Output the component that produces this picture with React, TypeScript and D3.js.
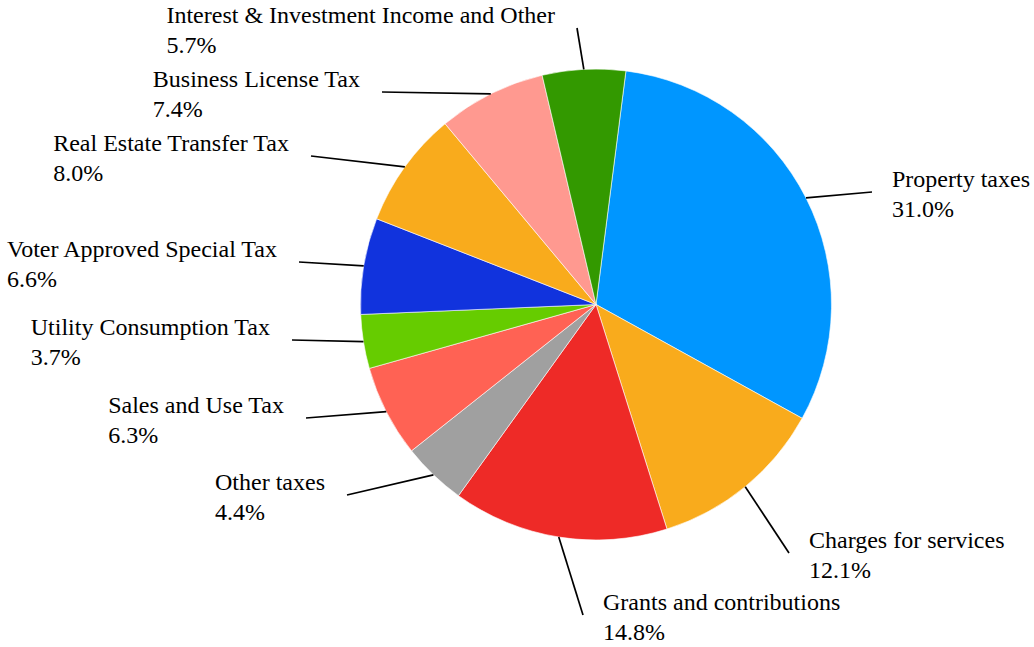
import React, { useEffect, useRef } from "react";
import * as d3 from "d3";

const categories = [
  "Property taxes",
  "Charges for services",
  "Grants and contributions",
  "Other taxes",
  "Sales and Use Tax",
  "Utility Consumption Tax",
  "Voter Approved Special Tax",
  "Real Estate Transfer Tax",
  "Business License Tax",
  "Interest & Investment Income and Other",
];
const shares = [31.0, 12.1, 14.8, 4.4, 6.3, 3.7, 6.6, 8.0, 7.4, 5.7];
const colors = [
  "#0096FF",
  "#F9AB1C",
  "#EE2A27",
  "#A0A0A0",
  "#FF6254",
  "#66CC00",
  "#1133DD",
  "#F9AB1C",
  "#FF9990",
  "#339900",
];

// label leader-line end points relative to the pie centre, and text side
const labelEnds: [number, number, "left" | "right"][] = [
  [276, -112.5, "right"],
  [193, 248.5, "right"],
  [-13, 310.5, "right"],
  [-249, 190.5, "left"],
  [-290, 113.5, "left"],
  [-304, 35.5, "left"],
  [-297, -42.5, "left"],
  [-285, -148.5, "left"],
  [-214, -212.5, "left"],
  [-19, -276.5, "left"],
];

const W = 1034;
const H = 647;
const CX = 596;
const CY = 304.5;
const R = 235.5;
const START_DEG = 7.3;
const FONT = "Liberation Serif, Times New Roman, serif";

export default function App() {
  const ref = useRef<SVGSVGElement>(null);
  useEffect(() => {
    const svg = d3.select(ref.current);
    svg.selectAll("*").remove();
    const g = svg.append("g").attr("transform", `translate(${CX},${CY})`);
    const start = (START_DEG * Math.PI) / 180;
    const pie = d3
      .pie<number>()
      .sort(null)
      .value((d) => d)
      .startAngle(start)
      .endAngle(start + 2 * Math.PI);
    const arcs = pie(shares);
    const arc = d3.arc<d3.PieArcDatum<number>>().innerRadius(0).outerRadius(R);
    g.selectAll("path.slice")
      .data(arcs)
      .enter()
      .append("path")
      .attr("class", "slice")
      .attr("d", arc)
      .attr("fill", (_, i) => colors[i])
      .attr("stroke", "#ffffff")
      .attr("stroke-width", 0.6);

    arcs.forEach((a, i) => {
      const mid = (a.startAngle + a.endAngle) / 2;
      const x0 = Math.sin(mid) * R;
      const y0 = -Math.cos(mid) * R;
      const [ex, ey, side] = labelEnds[i];
      g.append("line")
        .attr("x1", x0)
        .attr("y1", y0)
        .attr("x2", ex)
        .attr("y2", ey)
        .attr("stroke", "#000")
        .attr("stroke-width", 1.7);
      const t1 = g
        .append("text")
        .style("font-family", FONT)
        .attr("font-size", 24)
        .attr("fill", "#000")
        .attr("y", ey - 5)
        .text(categories[i]);
      const t2 = g
        .append("text")
        .style("font-family", FONT)
        .attr("font-size", 24)
        .attr("fill", "#000")
        .attr("y", ey + 25)
        .text(d3.format(".1f")(shares[i]) + "%");
      let tx: number;
      if (side === "right") {
        tx = ex + 20;
      } else {
        const w = Math.max(
          (t1.node() as SVGTextElement).getComputedTextLength(),
          (t2.node() as SVGTextElement).getComputedTextLength()
        );
        tx = ex - 22 - w;
      }
      t1.attr("x", tx);
      t2.attr("x", tx);
    });
  }, []);
  return (
    <svg
      ref={ref}
      width={W}
      height={H}
      style={{ position: "absolute", left: 0, top: 0, background: "#fff" }}
    />
  );
}
